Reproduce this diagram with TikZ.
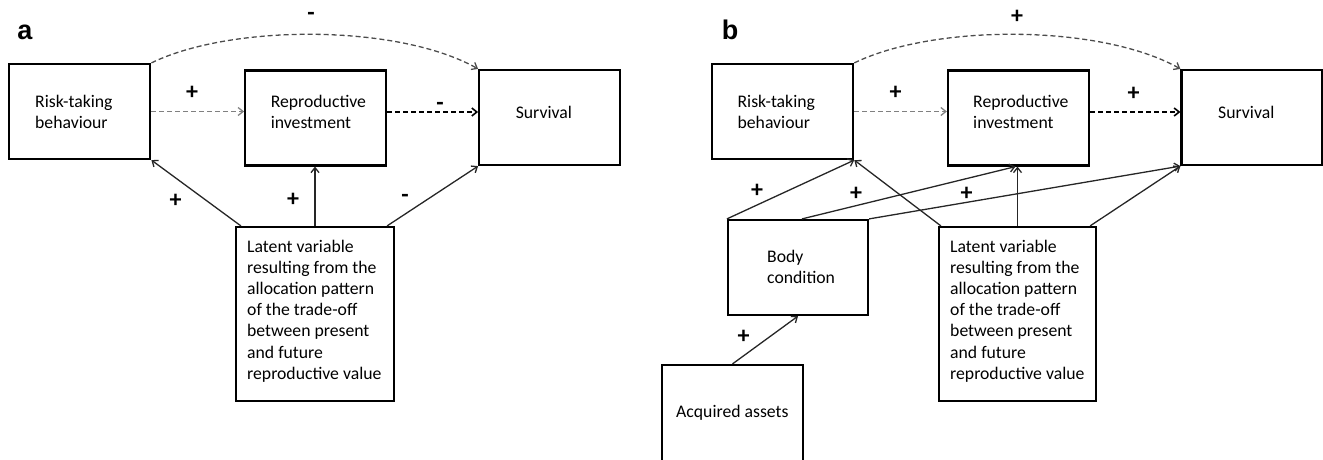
\documentclass[tikz,border=0pt]{standalone}
\usepackage{fontspec}
\setmainfont{Carlito}
\newfontfamily\panelfont{Liberation Sans}
\usetikzlibrary{arrows.meta,positioning}

\tikzset{
  >={Straight Barb[length=5pt,width=8pt]},
  box/.style={draw, line width=2.2pt, minimum width=141pt, minimum height=95pt, inner sep=0pt},
  txt/.style={anchor=west, align=left, inner sep=0pt, font=\fontsize{17.7}{21.2}\selectfont},
  sign/.style={inner sep=0pt, font=\fontsize{24}{24}\selectfont\bfseries},
  panel/.style={inner sep=0pt, font=\panelfont\fontsize{27}{27}\selectfont\bfseries},
  link/.style={->, line width=1.3pt, black!85},
  dlink/.style={->, line width=1.3pt, dash pattern=on 5pt off 3pt, black!70},
}

\begin{document}
\begin{tikzpicture}[x=1pt,y=-1pt]
  \path[use as bounding box] (0,0) rectangle (1323,459);
  \clip (0,0) rectangle (1323,459);

  % panel a
  \node[panel] (pa) at (25,32) {a};
  \node[box] (riska) at (79.8,111.5) {};
  \node[box] (repa) at (315.7,118) {};
  \node[box] (surva) at (549.7,117.5) {};
  \node[box, minimum width=158pt, minimum height=174pt] (lata) at (315,314) {};

  \node[txt] (riskat) at (35,112) {Risk-taking\\behaviour};
  \node[txt] (repat) at (270.6,112) {Reproductive\\investment};
  \node[txt] (survat) at (515.6,112.7) {Survival};
  \node[txt] (latat) at (247,311) {Latent variable\\resulting from the\\allocation pattern\\of the trade-off\\between present\\and future\\reproductive value};

  \draw[dlink] (riska.north east) .. controls +(80,-39) and +(-80,-45) .. (surva.north west);
  \draw[dlink, black!50] (riska.east) -- (riska.east -| repa.west);
  \draw[dlink, black, line width=1.6pt] (repa.west -| repa.east) ++(0,-6) coordinate (ra) (ra) -- (ra -| surva.west);
  \draw[link] ([xshift=6pt]lata.north west) -- (riska.south east);
  \draw[link] (lata.north) -- (lata.north |- repa.south);
  \draw[link] ([xshift=-8pt]lata.north east) -- (surva.south west);

  \node[sign] (sa1) at (311,16) {-};
  \node[sign] (sa2) at (192,93) {+};
  \node[sign] (sa3) at (440,106) {-};
  \node[sign] (sa4) at (175.5,201) {+};
  \node[sign] (sa5) at (293,200) {+};
  \node[sign] (sa6) at (405,198) {-};

  % panel b
  \node[panel] (pb) at (730,30) {b};
  \node[box] (riskb) at (782.7,111.5) {};
  \node[box] (repb) at (1018.5,118) {};
  \node[box] (survb) at (1252,117.5) {};
  \node[box, minimum width=140pt] (bod) at (798,267.5) {};
  \node[box, minimum height=130pt] (acq) at (732.5,430) {};
  \node[box, minimum width=157pt, minimum height=174pt] (latb) at (1017.5,314) {};

  \node[txt] (riskbt) at (737.4,112) {Risk-taking\\behaviour};
  \node[txt] (repbt) at (973,112) {Reproductive\\investment};
  \node[txt] (survbt) at (1218,112.7) {Survival};
  \node[txt] (bodt) at (767,267) {Body\\condition};
  \node[txt] (acqt) at (676,413) {Acquired assets};
  \node[txt] (latbt) at (950,311) {Latent variable\\resulting from the\\allocation pattern\\of the trade-off\\between present\\and future\\reproductive value};

  \draw[dlink] (riskb.north east) .. controls +(80,-39) and +(-80,-45) .. (survb.north west);
  \draw[dlink, black!50] (riskb.east) -- (riskb.east -| repb.west);
  \draw[dlink, black, line width=1.6pt] (repb.west -| repb.east) ++(0,-6) coordinate (rb) (rb) -- (rb -| survb.west);
  \draw[link] (bod.north west) -- (riskb.south east);
  \draw[link] ([xshift=4pt]bod.north) -- ([xshift=-3pt]repb.south);
  \draw[link] (bod.north east) -- (survb.south west);
  \draw[link] ([xshift=3pt]latb.north west) -- (riskb.south east);
  \draw[link] (latb.north) -- (latb.north |- repb.south);
  \draw[link] ([xshift=-7pt]latb.north east) -- (survb.south west);
  \draw[link] (acq.north) -- (bod.south);

  \node[sign] (sb1) at (1017,17) {+};
  \node[sign] (sb2) at (895.5,93) {+};
  \node[sign] (sb3) at (1133.6,94) {+};
  \node[sign] (sb4) at (757,191) {+};
  \node[sign] (sb5) at (856,194) {+};
  \node[sign] (sb6) at (966.5,194) {+};
  \node[sign] (sb7) at (743.7,337) {+};
\end{tikzpicture}
\end{document}
